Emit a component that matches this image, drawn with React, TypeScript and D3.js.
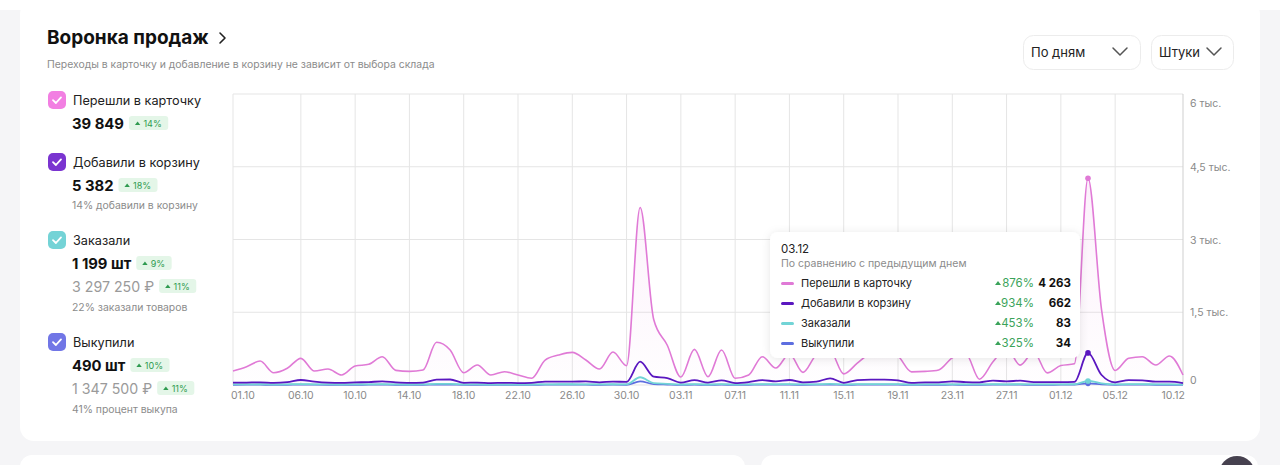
import React from "react";
import * as d3 from "d3";

// ---- data ----
const startDate = new Date(2023, 9, 1);
const endDate = new Date(2023, 11, 10);

const clicks = [
  288, 377, 494, 253, 344, 550, 288, 330, 206, 391, 426, 583, 302, 281, 309, 880, 721, 253, 412, 206, 274, 206, 138, 515, 618, 673, 515, 330, 680, 398, 3660,
  1350, 820, 165, 735, 171, 721, 138, 206, 583, 350, 640, 260, 620, 700, 230, 450, 660, 720, 600, 270, 280, 310, 560, 640, 120, 480, 760, 410, 680, 250,
  400, 437, 4263, 1550, 300, 550, 583, 412, 597, 206
];
const carts = [
  47, 50, 55, 45, 60, 103, 70, 50, 45, 55, 60, 75, 55, 45, 50, 110, 113, 45, 50, 40, 45, 40, 45, 70, 70, 70, 75, 55, 70, 65, 480,
  171, 144, 50, 100, 50, 95, 40, 60, 100, 75, 103, 56, 70, 138, 45, 100, 110, 110, 95, 45, 55, 55, 75, 60, 55, 90, 75, 90, 60, 60,
  60, 64, 662, 206, 55, 100, 95, 70, 70, 40
];
const orders = [
  12, 14, 15, 10, 13, 20, 14, 12, 10, 12, 14, 16, 12, 10, 11, 22, 22, 10, 12, 9, 10, 9, 10, 14, 15, 15, 14, 12, 15, 13, 160,
  40, 25, 10, 18, 10, 18, 9, 12, 18, 14, 18, 11, 14, 22, 10, 18, 20, 20, 18, 10, 11, 11, 14, 12, 11, 16, 14, 16, 12, 12,
  12, 15, 83, 35, 11, 18, 17, 13, 13, 9
];
const buyouts = [
  5, 6, 6, 4, 5, 8, 6, 5, 4, 5, 6, 7, 5, 4, 5, 9, 9, 4, 5, 4, 4, 4, 4, 6, 6, 6, 6, 5, 6, 5, 75,
  18, 10, 4, 7, 4, 7, 4, 5, 7, 6, 7, 5, 6, 9, 4, 7, 8, 8, 7, 4, 5, 5, 6, 5, 5, 6, 6, 6, 5, 5,
  6, 8, 34, 14, 5, 7, 7, 5, 5, 4
];

const xTickLabels = ["01.10", "06.10", "10.10", "14.10", "18.10", "22.10", "26.10", "30.10", "03.11", "07.11", "11.11", "15.11", "19.11", "23.11", "27.11", "01.12", "05.12", "10.12"];
const yTicks = [0, 1500, 3000, 4500, 6000];

const seriesNames = ["Перешли в карточку", "Добавили в корзину", "Заказали", "Выкупили"];
const lineColors = ["#e07ad6", "#5a17c0", "#72d4d6", "#5d6ee0"];
const boxColors = ["#f27fe2", "#7a34d0", "#74d3d6", "#7176e6"];

// legend summary
const totals = ["39 849", "5 382", "1 199 шт", "490 шт"];
const totalGrowth = ["14%", "18%", "9%", "10%"];
const money = [null, null, "3 297 250 ₽", "1 347 500 ₽"];
const moneyGrowth = [null, null, "11%", "11%"];
const notes = [null, "14% добавили в корзину", "22% заказали товаров", "41% процент выкупа"];

const tooltipDate = "03.12";
const tooltipPct = ["876%", "934%", "453%", "325%"];
const tooltipVals = ["4 263", "662", "83", "34"];

const W = 1280;
const H = 465;
const plot = { left: 233, right: 1183, top: 94, bottom: 385 };
const FONT = "Inter, 'Noto Sans', sans-serif";

const dates = d3.timeDay.range(startDate, d3.timeDay.offset(endDate, 1));
const parseTick = (s: string) => {
  const [dd, mm] = s.split(".").map(Number);
  return new Date(2023, mm - 1, dd);
};

let ctx: CanvasRenderingContext2D | null = null;
function measure(text: string, size: number, weight = 400) {
  if (!ctx) ctx = document.createElement("canvas").getContext("2d");
  if (!ctx) return text.length * size * 0.6;
  ctx.font = `${weight} ${size}px Inter, 'Noto Sans', sans-serif`;
  return ctx.measureText(text).width;
}

function CheckBox({ x, y, color }: { x: number; y: number; color: string }) {
  return (
    <g transform={`translate(${x},${y})`}>
      <rect width={18} height={18} rx={5} fill={color} />
      <path d="M5 9.2 L7.9 12 L13 6.4" fill="none" stroke="#fff" strokeWidth={1.8} strokeLinecap="round" strokeLinejoin="round" />
    </g>
  );
}

function Badge({ x, y, text }: { x: number; y: number; text: string }) {
  const w = measure(text, 9) + 21;
  return (
    <g transform={`translate(${x},${y})`}>
      <rect width={w} height={14} rx={3} fill="#e4f6e8" />
      <path d="M6 9 L8.7 5.5 L11.4 9 Z" fill="#2f9b50" />
      <text x={14.5} y={10.5} fontSize={9} fill="#2f9b50">{text}</text>
    </g>
  );
}

function Chevron({ x, y }: { x: number; y: number }) {
  return <path d={`M${x} ${y} L${x + 7} ${y + 7} L${x + 14} ${y}`} fill="none" stroke="#555" strokeWidth={1.5} strokeLinecap="round" strokeLinejoin="round" />;
}

export default function App() {
  const x = d3.scaleTime().domain([startDate, endDate]).range([plot.left, plot.right]);
  const y = d3.scaleLinear().domain([0, 6000]).range([plot.bottom, plot.top]);

  const all = [clicks, carts, orders, buyouts];
  const line = d3
    .line<number>()
    .x((_, i) => x(dates[i]))
    .y((d) => y(d))
    .curve(d3.curveMonotoneX);
  const area = d3
    .area<number>()
    .x((_, i) => x(dates[i]))
    .y0(plot.bottom)
    .y1((d) => y(d))
    .curve(d3.curveMonotoneX);

  const hoverIdx = dates.findIndex((d) => d3.timeFormat("%d.%m")(d) === tooltipDate);
  const hx = x(dates[hoverIdx]);
  const fmtY = (v: number) => (v === 0 ? "0" : `${String(v / 1000).replace(".", ",")} тыс.`);

  const tip = { x: 770, y: 232, w: 310, h: 126 };

  const labelSize = 12.7;
  const valueSize = 14.8;
  const moneySize = 14.2;
  const blockTop = [91, 153, 231, 333];

  return (
    <div style={{ position: "fixed", left: 0, top: 0, width: W, height: H }}>
      <svg width={W} height={H} style={{ display: "block", fontFamily: FONT }}>
        <defs>
          <linearGradient id="pinkFill" gradientUnits="userSpaceOnUse" x1={0} y1={plot.top} x2={0} y2={plot.bottom}>
            <stop offset="0%" stopColor="#e07ad6" stopOpacity={0.15} />
            <stop offset="100%" stopColor="#e07ad6" stopOpacity={0.01} />
          </linearGradient>
          <filter id="shadow" x="-10%" y="-20%" width="120%" height="140%">
            <feDropShadow dx={0} dy={1} stdDeviation={4} floodColor="#000" floodOpacity={0.1} />
          </filter>
        </defs>

        {/* page background and cards */}
        <rect width={W} height={H} fill="#f5f5f7" />
        <rect x={0} y={0} width={W} height={10} fill="#fff" />
        <rect x={20} y={0} width={1240} height={441} rx={14} fill="#fff" />
        <rect x={20} y={455} width={725} height={40} rx={12} fill="#fff" />
        <rect x={761} y={455} width={497} height={40} rx={12} fill="#fff" />
        <circle cx={1237} cy={474} r={18} fill="#46414f" />

        {/* header */}
        <text x={47} y={44} fontSize={19} fontWeight={700} fill="#111">Воронка продаж</text>
        <path d="M220 33 L225 38 L220 43" fill="none" stroke="#222" strokeWidth={1.6} strokeLinecap="round" strokeLinejoin="round" />
        <text x={47} y={68} fontSize={10.4} fill="#8b8b8b">Переходы в карточку и добавление в корзину не зависит от выбора склада</text>

        <rect x={1023.5} y={35.5} width={117} height={34} rx={10} fill="#fff" stroke="#ececec" />
        <text x={1031} y={57} fontSize={13} fill="#222">По дням</text>
        <Chevron x={1113} y={48} />
        <rect x={1151.5} y={35.5} width={82} height={34} rx={10} fill="#fff" stroke="#ececec" />
        <text x={1159} y={57} fontSize={13} fill="#222">Штуки</text>
        <Chevron x={1207} y={48} />

        {/* left legend */}
        {seriesNames.map((name, i) => {
          const t = blockTop[i];
          const valW = measure(totals[i], valueSize, 700);
          const m = money[i];
          const mg = moneyGrowth[i];
          const note = notes[i];
          const noteY = m ? t + 80 : t + 56;
          return (
            <g key={`lg${i}`}>
              <CheckBox x={48} y={t} color={boxColors[i]} />
              <text x={73} y={t + 14} fontSize={labelSize} fill="#222">{name}</text>
              <text x={72} y={t + 38} fontSize={valueSize} fontWeight={700} fill="#111">{totals[i]}</text>
              <Badge x={72 + valW + 5} y={t + 25} text={totalGrowth[i]} />
              {m && (
                <>
                  <text x={72} y={t + 61} fontSize={moneySize} fill="#9a9a9a">{m}</text>
                  <Badge x={72 + measure(m, moneySize) + 5} y={t + 48} text={mg ?? ""} />
                </>
              )}
              {note && (
                <text x={72} y={noteY} fontSize={10.4} fill="#8b8b8b">{note}</text>
              )}
            </g>
          );
        })}

        {/* grid */}
        {yTicks.map((t) => (
          <line key={`h${t}`} x1={plot.left} x2={plot.right} y1={y(t)} y2={y(t)} stroke="#e5e5e5" />
        ))}
        {xTickLabels.slice(0, -1).map((s) => (
          <line key={`v${s}`} x1={x(parseTick(s))} x2={x(parseTick(s))} y1={plot.top} y2={plot.bottom} stroke="#e5e5e5" />
        ))}
        <line x1={plot.right} x2={plot.right} y1={plot.top} y2={plot.bottom} stroke="#cfcfcf" />

        {/* axis labels */}
        {yTicks.map((t) => (
          <text key={`yl${t}`} x={1190} y={Math.min(Math.max(y(t) + 4, plot.top + 13), plot.bottom - 1)} fontSize={10.5} fill="#8a8a8a">
            {fmtY(t)}
          </text>
        ))}
        {xTickLabels.map((s, i) => (
          <text
            key={`xl${s}`}
            x={i === 0 ? plot.left - 2 : i === xTickLabels.length - 1 ? plot.right + 2 : x(parseTick(s))}
            y={399}
            fontSize={10.5}
            fill="#8a8a8a"
            textAnchor={i === 0 ? "start" : i === xTickLabels.length - 1 ? "end" : "middle"}
          >
            {s}
          </text>
        ))}

        {/* series */}
        <path d={area(clicks) ?? ""} fill="url(#pinkFill)" />
        {[3, 2, 1, 0].map((k) => (
          <path key={`l${k}`} d={line(all[k]) ?? ""} fill="none" stroke={lineColors[k]} strokeWidth={k === 0 ? 1.6 : 1.8} strokeLinejoin="round" />
        ))}
        {[3, 2, 1, 0].map((k) => (
          <circle key={`c${k}`} cx={hx} cy={y(all[k][hoverIdx])} r={2.8} fill={lineColors[k]} />
        ))}

        {/* tooltip */}
        <g filter="url(#shadow)">
          <rect x={tip.x} y={tip.y} width={tip.w} height={tip.h} rx={8} fill="#fff" />
        </g>
        <text x={tip.x + 11} y={tip.y + 21} fontSize={11.5} fill="#222">{tooltipDate}</text>
        <text x={tip.x + 11} y={tip.y + 35} fontSize={10.5} fill="#8b8b8b">По сравнению с предыдущим днем</text>
        {seriesNames.map((name, i) => {
          const ry = tip.y + 55 + i * 20;
          return (
            <g key={`t${i}`}>
              <rect x={tip.x + 11} y={ry - 5} width={13} height={3} rx={1.5} fill={lineColors[i]} />
              <text x={tip.x + 31} y={ry} fontSize={11} fill="#222">{name}</text>
              <path d={`M${tip.x + 225} ${ry - 2} L${tip.x + 228} ${ry - 6} L${tip.x + 231} ${ry - 2} Z`} fill="#3aa35a" />
              <text x={tip.x + 264} y={ry} fontSize={11.5} fill="#3aa35a" textAnchor="end">{tooltipPct[i]}</text>
              <text x={tip.x + 301} y={ry} fontSize={11.5} fontWeight={700} fill="#111" textAnchor="end">{tooltipVals[i]}</text>
            </g>
          );
        })}
      </svg>
    </div>
  );
}
